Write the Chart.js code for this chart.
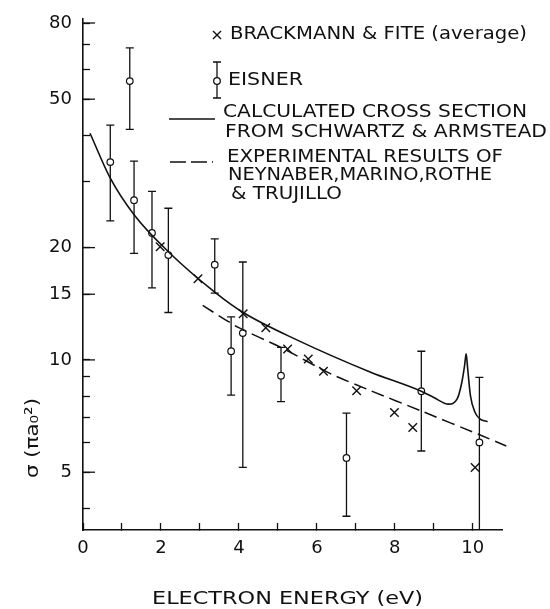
<!DOCTYPE html>
<html>
<head>
<meta charset="utf-8">
<script src="https://cdn.jsdelivr.net/npm/chart.js@4.4.1/dist/chart.umd.min.js"></script>
<style>
  html, body { margin: 0; padding: 0; background: #fff; }
  #wrap { width: 550px; height: 609px; }
</style>
</head>
<body>
<div id="wrap"><canvas id="myChart" width="550" height="609"></canvas></div>
<script>
// Axis ticks
const xTicks = [0, 1, 2, 3, 4, 5, 6, 7, 8, 9, 10];
const xTickLabels = ['0', '', '2', '', '4', '', '6', '', '8', '', '10'];
const yTicks = [4, 5, 6, 7, 8, 9, 10, 15, 20, 30, 40, 50, 60, 70, 80];
const yTickLabels = ['', '5', '', '', '', '', '10', '15', '20', '', '', '50', '', '', '80'];

// Calculated cross section (Schwartz & Armstead)
const calcEnergy = [0.18, 0.70, 1.31, 2.19, 3.38, 4.11, 5.50, 7.38, 8.68, 9.00, 9.38, 9.60, 9.72, 9.79, 9.83, 9.87, 9.94, 10.06, 10.19, 10.38];
const calcSigma = [40.5, 30.7, 24.5, 19.5, 15.2, 13.4, 11.3, 9.27, 8.24, 7.93, 7.61, 7.86, 8.71, 9.65, 10.38, 9.46, 8.02, 7.23, 6.94, 6.83];

// Experimental results (Neynaber, Marino, Rothe & Trujillo)
const expEnergy = [3.07, 3.97, 5.08, 6.36, 7.38, 8.66, 10.19, 10.86];
const expSigma = [14.0, 12.24, 10.8, 9.17, 8.27, 7.31, 6.29, 5.88];

// Brackmann & Fite (average)
const brackEnergy = [1.98, 2.95, 4.11, 4.69, 5.25, 5.78, 6.17, 7.02, 7.99, 8.46, 10.06];
const brackSigma = [20.1, 16.5, 13.3, 12.2, 10.7, 10.06, 9.32, 8.27, 7.23, 6.59, 5.15];

// Eisner, with error bars
const eisnerEnergy = [0.70, 1.20, 1.31, 1.77, 2.19, 3.38, 3.80, 4.10, 5.08, 6.76, 8.68, 10.17];
const eisnerSigma = [33.9, 55.9, 26.8, 21.9, 19.1, 18.0, 10.55, 11.8, 9.07, 5.46, 8.24, 6.01];
const eisnerHigh = [42.6, 68.6, 34.1, 28.3, 25.5, 21.1, 13.05, 18.3, 10.8, 7.2, 10.55, 8.98];
const eisnerLow = [23.6, 41.5, 19.3, 15.6, 13.4, 15.1, 8.05, 5.15, 7.73, 3.81, 5.70, 3.5];

const legendTexts = [
    'BRACKMANN & FITE (average)',
    'EISNER',
    'CALCULATED CROSS SECTION',
    'FROM SCHWARTZ & ARMSTEAD',
    'EXPERIMENTAL RESULTS OF',
    'NEYNABER,MARINO,ROTHE',
    '& TRUJILLO'
];
const xTitle = 'ELECTRON ENERGY (eV)';
const yTitle = 'σ (πa₀²)';

const FONT = '"DejaVu Sans", sans-serif';
const INK = '#111';

function toPoints(xs, ys) {
    return xs.map((x, i) => ({ x: x, y: ys[i] }));
}

// draw text squeezed/stretched to a given width
function fitText(ctx, text, x, y, width) {
    const w = ctx.measureText(text).width;
    ctx.save();
    ctx.translate(x, y);
    ctx.scale(width / w, 1);
    ctx.fillText(text, 0, 0);
    ctx.restore();
}

function drawBar(ctx, x, yTop, yBot, cap, capBottom) {
    ctx.beginPath();
    ctx.moveTo(x, yTop);
    ctx.lineTo(x, yBot);
    ctx.moveTo(x - cap, yTop);
    ctx.lineTo(x + cap, yTop);
    if (capBottom) {
        ctx.moveTo(x - cap, yBot);
        ctx.lineTo(x + cap, yBot);
    }
    ctx.stroke();
}

const extras = {
    id: 'extras',
    beforeDatasetsDraw(chart) {
        const ctx = chart.ctx;
        const xs = chart.scales.x, ys = chart.scales.y;
        ctx.save();
        ctx.strokeStyle = INK;
        ctx.lineWidth = 1.3;
        eisnerEnergy.forEach((e, i) => {
            const px = xs.getPixelForValue(e);
            const top = ys.getPixelForValue(eisnerHigh[i]);
            const bot = ys.getPixelForValue(Math.max(eisnerLow[i], ys.min));
            drawBar(ctx, px, top, bot, 4, eisnerLow[i] > ys.min);
        });
        ctx.restore();
    },
    afterDraw(chart) {
        const ctx = chart.ctx;
        const area = chart.chartArea;
        const ys = chart.scales.y;
        ctx.save();
        ctx.strokeStyle = INK;
        ctx.fillStyle = INK;

        // longer ticks on labelled values
        ctx.lineWidth = 1.3;
        yTicks.forEach((v, i) => {
            if (!yTickLabels[i]) return;
            const py = ys.getPixelForValue(v);
            ctx.beginPath();
            ctx.moveTo(area.left, py);
            ctx.lineTo(area.left + 12, py);
            ctx.stroke();
        });

        // axis titles
        ctx.font = '17px ' + FONT;
        ctx.textBaseline = 'middle';
        ctx.textAlign = 'left';
        fitText(ctx, xTitle, 152, 600, 271);
        ctx.save();
        ctx.translate(33, 478);
        ctx.rotate(-Math.PI / 2);
        ctx.font = '18px ' + FONT;
        fitText(ctx, yTitle, 0, 0, 80);
        ctx.restore();

        // legend symbols
        ctx.lineWidth = 1.4;
        ctx.beginPath();
        ctx.moveTo(213, 31); ctx.lineTo(221, 39);
        ctx.moveTo(221, 31); ctx.lineTo(213, 39);
        ctx.stroke();
        ctx.lineWidth = 1.3;
        drawBar(ctx, 217, 62, 98, 4, true);
        ctx.beginPath();
        ctx.arc(217, 81, 3.3, 0, Math.PI * 2);
        ctx.fillStyle = '#fff';
        ctx.fill();
        ctx.stroke();
        ctx.fillStyle = INK;
        ctx.lineWidth = 1.5;
        ctx.beginPath();
        ctx.moveTo(169, 119); ctx.lineTo(215, 119);
        ctx.stroke();
        ctx.setLineDash([16, 5]);
        ctx.beginPath();
        ctx.moveTo(170, 162); ctx.lineTo(213, 162);
        ctx.stroke();
        ctx.setLineDash([]);

        // legend texts
        ctx.font = '17px ' + FONT;
        fitText(ctx, legendTexts[0], 230, 35, 297);
        fitText(ctx, legendTexts[1], 228, 81, 75);
        fitText(ctx, legendTexts[2], 223, 113, 304);
        fitText(ctx, legendTexts[3], 225, 133, 322);
        fitText(ctx, legendTexts[4], 227, 158, 276);
        fitText(ctx, legendTexts[5], 228, 176, 264);
        fitText(ctx, legendTexts[6], 231, 195, 111);
        ctx.restore();
    }
};

const ctx = document.getElementById('myChart').getContext('2d');
const chart = new Chart(ctx, {
    type: 'scatter',
    data: {
        datasets: [
            {
                label: 'Calculated cross section',
                data: toPoints(calcEnergy, calcSigma),
                showLine: true,
                borderColor: INK,
                borderWidth: 1.6,
                pointRadius: 0,
                cubicInterpolationMode: 'monotone',
                fill: false
            },
            {
                label: 'Experimental results',
                data: toPoints(expEnergy, expSigma),
                showLine: true,
                borderColor: INK,
                borderWidth: 1.5,
                borderDash: [13, 6],
                pointRadius: 0,
                tension: 0.2,
                clip: false,
                fill: false
            },
            {
                label: 'Brackmann & Fite',
                data: toPoints(brackEnergy, brackSigma),
                pointStyle: 'crossRot',
                pointRadius: 6,
                borderColor: INK,
                borderWidth: 1.4
            },
            {
                label: 'Eisner',
                data: toPoints(eisnerEnergy, eisnerSigma),
                pointStyle: 'circle',
                pointRadius: 3.3,
                backgroundColor: '#fff',
                borderColor: INK,
                borderWidth: 1.2
            }
        ]
    },
    options: {
        responsive: false,
        animation: false,
        layout: { padding: { top: 19, right: 48, left: 0, bottom: 0 } },
        plugins: {
            legend: { display: false },
            tooltip: { enabled: false }
        },
        scales: {
            x: {
                type: 'linear',
                min: 0,
                max: 10.75,
                afterBuildTicks: (scale) => {
                    scale.ticks = xTicks.map(v => ({ value: v }));
                },
                afterFit: (scale) => {
                    scale.height = 79;
                    scale.paddingRight = 0;
                },
                ticks: {
                    padding: 15,
                    color: INK,
                    font: { family: FONT, size: 18 },
                    maxRotation: 0,
                    autoSkip: false,
                    callback: (value) => xTickLabels[xTicks.indexOf(value)]
                },
                grid: {
                    drawOnChartArea: false,
                    drawTicks: true,
                    tickLength: -7,
                    tickColor: INK,
                    tickWidth: 1.3
                },
                border: { display: true, color: INK, width: 1.6 }
            },
            y: {
                type: 'logarithmic',
                min: 3.5,
                max: 82,
                afterBuildTicks: (scale) => {
                    scale.ticks = yTicks.map(v => ({ value: v }));
                },
                afterFit: (scale) => {
                    scale.width = 83;
                    scale.paddingTop = 0;
                    scale.paddingBottom = 0;
                },
                ticks: {
                    padding: 18,
                    color: INK,
                    font: { family: FONT, size: 18 },
                    autoSkip: false,
                    callback: (value) => yTickLabels[yTicks.indexOf(value)]
                },
                grid: {
                    drawOnChartArea: false,
                    drawTicks: true,
                    tickLength: -7,
                    tickColor: INK,
                    tickWidth: 1.3
                },
                border: { display: true, color: INK, width: 1.6 }
            }
        }
    },
    plugins: [extras]
});
</script>
</body>
</html>
